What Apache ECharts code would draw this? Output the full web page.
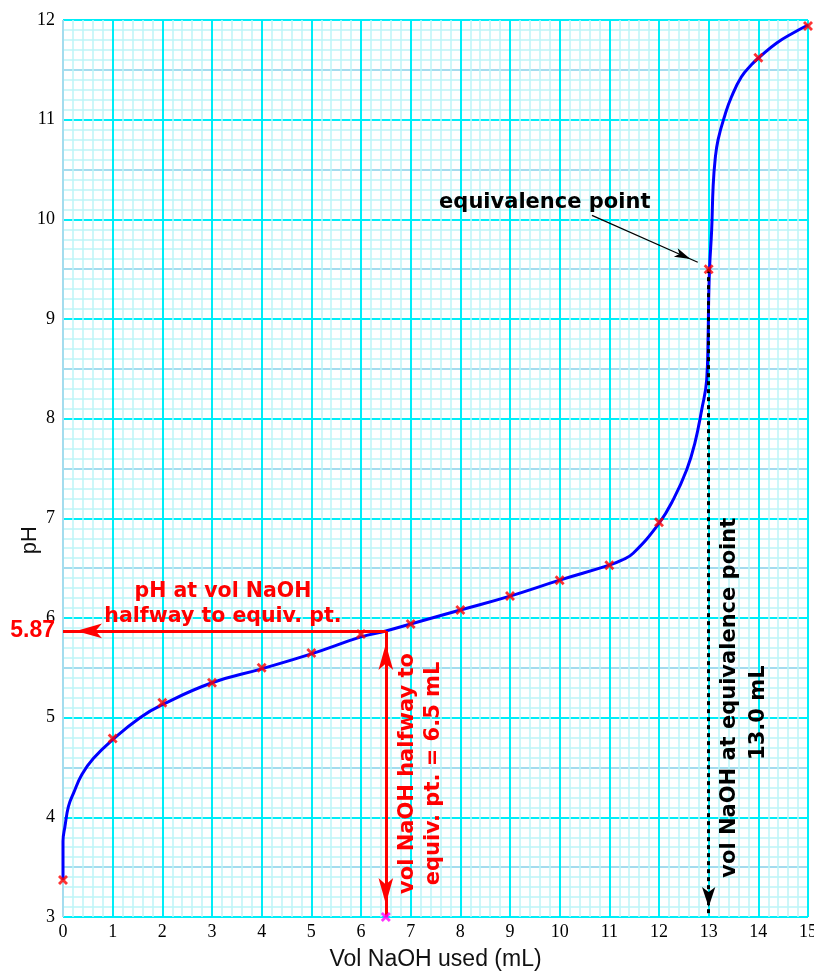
<!DOCTYPE html>
<html>
<head>
<meta charset="utf-8">
<script src="https://cdn.jsdelivr.net/npm/echarts@6/dist/echarts.min.js"></script>
<style>
html,body{margin:0;padding:0;background:#fff;overflow:hidden;}
#c{width:814px;height:973px;}
</style>
</head>
<body>
<div id="c"></div>
<script>
// ---- data ----
const xTicks = [0,1,2,3,4,5,6,7,8,9,10,11,12,13,14,15];
const yTicks = [3,4,5,6,7,8,9,10,11,12];

// measured titration points (red crosses)
const volAdded   = [0,1,2,3,4,5,6,7,8,9,10,11,12,13,14,15];
const phMeasured = [3.37,4.79,5.15,5.35,5.50,5.65,5.84,5.94,6.08,6.22,6.38,6.53,6.96,9.50,11.62,11.94];

// hand-drawn fitted curve (blue)
const curveVol = [0,0,0.04,0.11,0.21,0.38,0.61,1.0,1.55,2.0,3.0,4.0,5.0,6.0,6.5,7.0,8.0,9.0,10.0,11.0,11.25,11.48,12.0,12.29,12.56,12.72,12.86,12.96,12.99,13.0,13.02,13.06,13.09,13.13,13.19,13.33,13.46,13.66,13.86,14.03,14.37,14.70,15.0];
const curvePH  = [3.37,3.76,3.91,4.11,4.24,4.43,4.59,4.78,5.0,5.13,5.35,5.49,5.64,5.81,5.87,5.94,6.08,6.22,6.38,6.53,6.58,6.65,6.95,7.19,7.49,7.75,8.09,8.39,8.86,9.2,9.53,9.89,10.33,10.6,10.8,11.05,11.23,11.43,11.55,11.63,11.77,11.87,11.95];

// annotation values
const halfEquiv   = [6.5, 5.87];   // [vol, pH] halfway to equivalence
const equivPoint  = [13.0, 9.5];   // [vol, pH] equivalence point
const pointerFrom = [10.65, 10.04];
const pointerTo   = [12.78, 9.57];

// ---- chart ----
const MAJOR = '#00eef8';
const MINOR = '#bdf5f8';
const HALF  = '#a4dcee';
const crossPath = 'path://M0,2L2,0L5,3L8,0L10,2L7,5L10,8L8,10L5,7L2,10L0,8L3,5Z';
const xMin = xTicks[0], xMax = xTicks[xTicks.length-1];
const yMin = yTicks[0], yMax = yTicks[yTicks.length-1];

const chart = echarts.init(document.getElementById('c'), null, {renderer:'canvas'});

function arrowEnd(coord, size) {
  return {coord: coord, symbol: 'arrow', symbolSize: size, symbolOffset: [0, '50%']};
}

const option = {
  animation: false,
  backgroundColor: '#ffffff',
  grid: {left: 63, right: 6, top: 20, bottom: 56, containLabel: false, outerBoundsMode: 'none'},
  xAxis: {
    type: 'value', min: xMin, max: xMax, interval: 1,
    name: 'Vol NaOH used (mL)', nameLocation: 'middle', nameGap: 31, nameMoveOverlap: false,
    nameTextStyle: {fontFamily: 'Liberation Sans', fontSize: 23, color: '#111'},
    axisLine: {show: false}, axisTick: {show: false},
    axisLabel: {fontFamily: 'Liberation Serif', fontSize: 18, color: '#000', margin: 6},
    splitLine: {show: true, lineStyle: {color: xTicks.map((t,i)=> i===0 ? HALF : MAJOR), width: 2}},
    minorTick: {show: false, splitNumber: 5},
    minorSplitLine: {show: true, lineStyle: {color: MINOR, width: 1.5}}
  },
  yAxis: {
    type: 'value', min: yMin, max: yMax, interval: 0.5,
    axisLine: {show: false}, axisTick: {show: false},
    axisLabel: {fontFamily: 'Liberation Serif', fontSize: 18, color: '#000', margin: 8,
      formatter: v => (Math.abs(v - Math.round(v)) < 1e-6 ? String(Math.round(v)) : '')},
    splitLine: {show: true, lineStyle: {color: [MAJOR, HALF], width: 2}},
    minorTick: {show: false, splitNumber: 5},
    minorSplitLine: {show: true, lineStyle: {color: MINOR, width: 1.5}}
  },
  series: [
    {
      name: 'curve', type: 'line', z: 3,
      data: curveVol.map((v,i)=>[v, curvePH[i]]),
      smooth: 0.45, showSymbol: false, symbol: 'none',
      lineStyle: {color: '#0000ff', width: 3}
    },
    {
      name: 'measured', type: 'scatter', z: 6,
      data: volAdded.map((v,i)=>[v, phMeasured[i]]),
      symbol: crossPath, symbolSize: 10,
      itemStyle: {color: '#ff0000'}
    },
    {
      name: 'halfVolMark', type: 'scatter', z: 6,
      data: [[halfEquiv[0], yMin]],
      symbol: crossPath, symbolSize: 10,
      itemStyle: {color: '#ff00ff'}
    },
    {
      name: 'redArrows', type: 'line', z: 5, data: [],
      markLine: {
        silent: true, animation: false,
        symbol: 'none',
        symbolSize: [11, 26],
        lineStyle: {color: '#ff0000', width: 3, type: 'solid'},
        itemStyle: {color: '#ff0000'},
        label: {show: false},
        data: [
          [
            {coord: halfEquiv, symbol: 'none', label: {show: true, position: 'end', distance: 8,
              formatter: String(halfEquiv[1]), color: '#ff0000', fontFamily: 'Liberation Sans',
              fontWeight: 'bold', fontSize: 23}},
            arrowEnd([xMin, halfEquiv[1]], [11, 26])
          ],
          [
            arrowEnd(halfEquiv, [11, 26]),
            arrowEnd([halfEquiv[0], yMin], [11, 26])
          ]
        ]
      }
    },
    {
      name: 'eqArrow', type: 'line', z: 7, data: [],
      markLine: {
        silent: true, animation: false,
        symbol: 'none',
        symbolSize: [10, 20],
        lineStyle: {color: '#000000', width: 3, type: [4,4]},
        itemStyle: {color: '#000000'},
        label: {show: false},
        data: [[{coord: equivPoint, symbol: 'none'}, arrowEnd([equivPoint[0], yMin], [10, 20])]]
      }
    },
    {
      name: 'pointer', type: 'line', z: 7, data: [],
      markLine: {
        silent: true, animation: false,
        symbol: 'none',
        symbolSize: [7, 16],
        lineStyle: {color: '#000000', width: 1.2, type: 'solid'},
        itemStyle: {color: '#000000'},
        label: {show: false},
        data: [[{coord: pointerFrom, symbol: 'none'}, arrowEnd(pointerTo, [7, 16])]]
      }
    }
  ]
};
chart.setOption(option);

const at = (v, p) => chart.convertToPixel({gridIndex: 0}, [v, p]);
const ts = (color, text, size, lh) => ({
  text: text, fill: color, fontFamily: 'DejaVu Sans', fontWeight: 'bold', fontSize: size,
  align: 'center', verticalAlign: 'middle', lineHeight: lh
});
const p0 = at(xMin, 6.78);
const p1 = at(3.22, 6.14);
const p2 = at(7.19, 4.44);
const p3 = at(13.43, 5.20);
const p4 = at(14.01, 5.05);
const p5 = at(9.70, 10.17);
chart.setOption({
  graphic: [
    {type: 'text', x: p0[0] - 33, y: p0[1], z: 100, rotation: Math.PI/2,
      style: {text: 'pH', fill: '#111', fontFamily: 'Liberation Sans', fontSize: 22, align: 'center', verticalAlign: 'middle'}},
    {type: 'text', x: p1[0], y: p1[1], z: 100, style: ts('#ff0000', 'pH at vol NaOH\nhalfway to equiv. pt.', 20.5, 25)},
    {type: 'text', x: p2[0], y: p2[1], z: 100, rotation: Math.PI/2, style: ts('#ff0000', 'vol NaOH halfway to\nequiv. pt. = 6.5 mL', 21, 26)},
    {type: 'text', x: p3[0], y: p3[1], z: 100, rotation: Math.PI/2, style: ts('#000000', 'vol NaOH at equivalence point', 21, 25)},
    {type: 'text', x: p4[0], y: p4[1], z: 100, rotation: Math.PI/2, style: ts('#000000', equivPoint[0].toFixed(1) + ' mL', 21, 25)},
    {type: 'text', x: p5[0], y: p5[1], z: 100, style: ts('#000000', 'equivalence point', 21, 25)}
  ]
});
</script>
</body>
</html>
